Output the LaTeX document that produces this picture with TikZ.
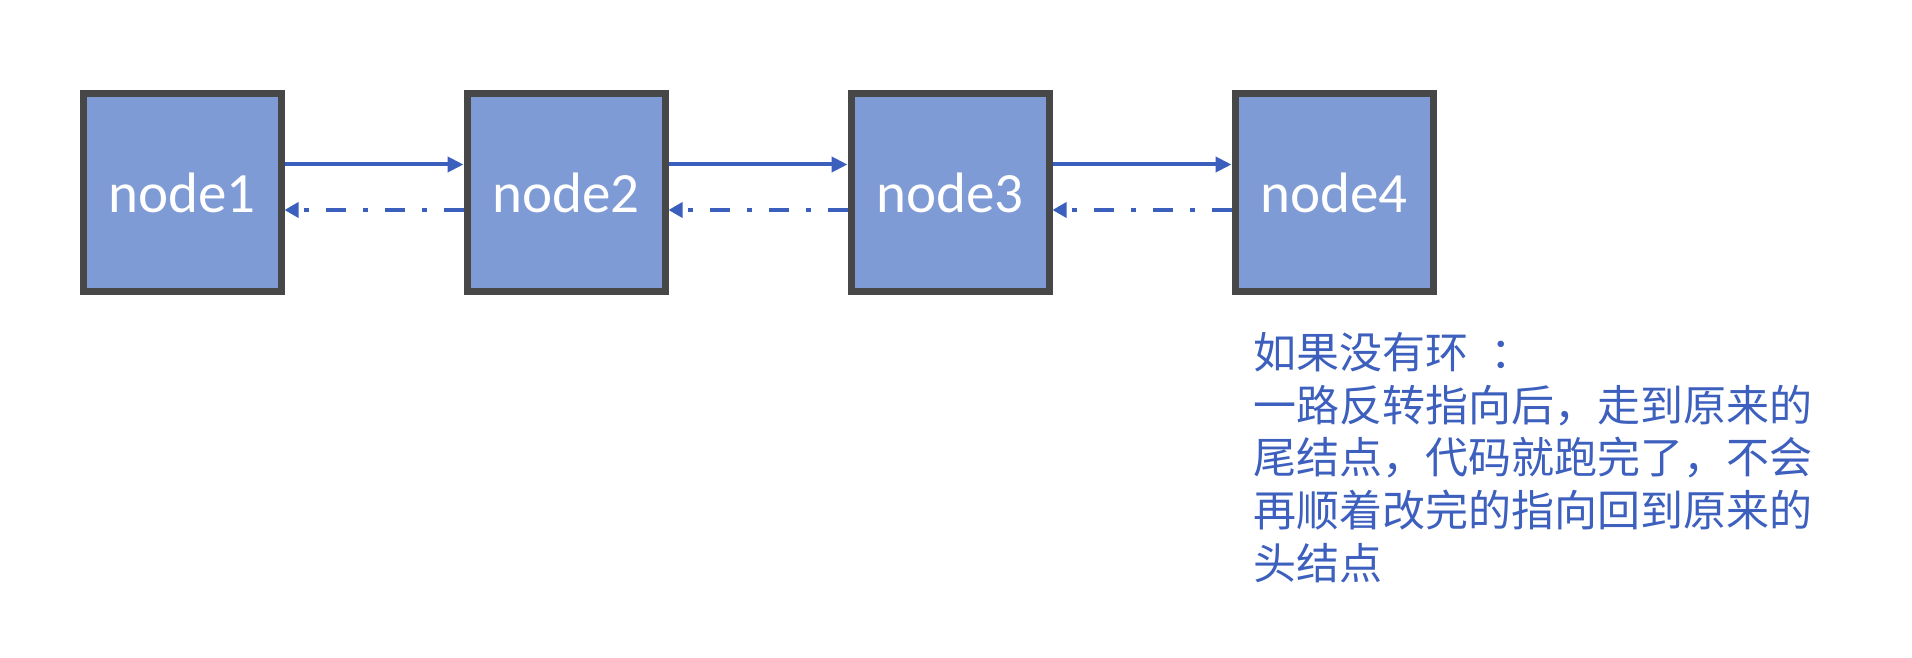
\documentclass[tikz,border=0pt]{standalone}
\usepackage{fontspec}
\setmainfont{Carlito}
\newfontfamily\cjk{Noto Sans CJK SC}
\usetikzlibrary{arrows.meta}
\definecolor{boxfill}{RGB}{127,155,213}
\definecolor{boxline}{RGB}{71,71,71}
\definecolor{arrowblue}{RGB}{58,95,189}
\definecolor{textblue}{RGB}{61,95,189}
\tikzset{
  listnode/.style={draw=boxline, line width=7pt, fill=boxfill, minimum size=198pt, inner sep=0pt,
    text=white, font=\fontsize{57}{68}\selectfont},
  nextarrow/.style={draw=arrowblue, line width=4pt, -{Triangle[length=16pt,width=15pt]}},
  prevarrow/.style={draw=arrowblue, line width=4pt, dash pattern=on 20pt off 17pt on 5pt off 17pt,
    -{Triangle[length=14pt,width=15pt]}},
}
\begin{document}
\begin{tikzpicture}[x=1pt,y=-1pt]
\useasboundingbox (0,0) rectangle (1912,658);
\node[listnode] (n1) at (182,192.5) {node1};
\node[listnode] (n2) at (566,192.5) {node2};
\node[listnode] (n3) at (950,192.5) {node3};
\node[listnode] (n4) at (1334,192.5) {node4};
\foreach \a/\b in {n1/n2,n2/n3,n3/n4}{
  \draw[nextarrow] ([yshift=28pt]\a.east) -- ([yshift=28pt]\b.west);
  \draw[prevarrow] ([yshift=-17.5pt]\b.west) -- ([yshift=-17.5pt]\a.east);
}
\node[anchor=north west, inner sep=0pt, align=left, text=textblue,
  font=\cjk\fontsize{43}{52.8}\selectfont] (note) at (1253,332)
  {如果没有环\hspace{22pt}：\\一路反转指向后，走到原来的\\尾结点，代码就跑完了，不会\\再顺着改完的指向回到原来的\\头结点};
\end{tikzpicture}
\end{document}
